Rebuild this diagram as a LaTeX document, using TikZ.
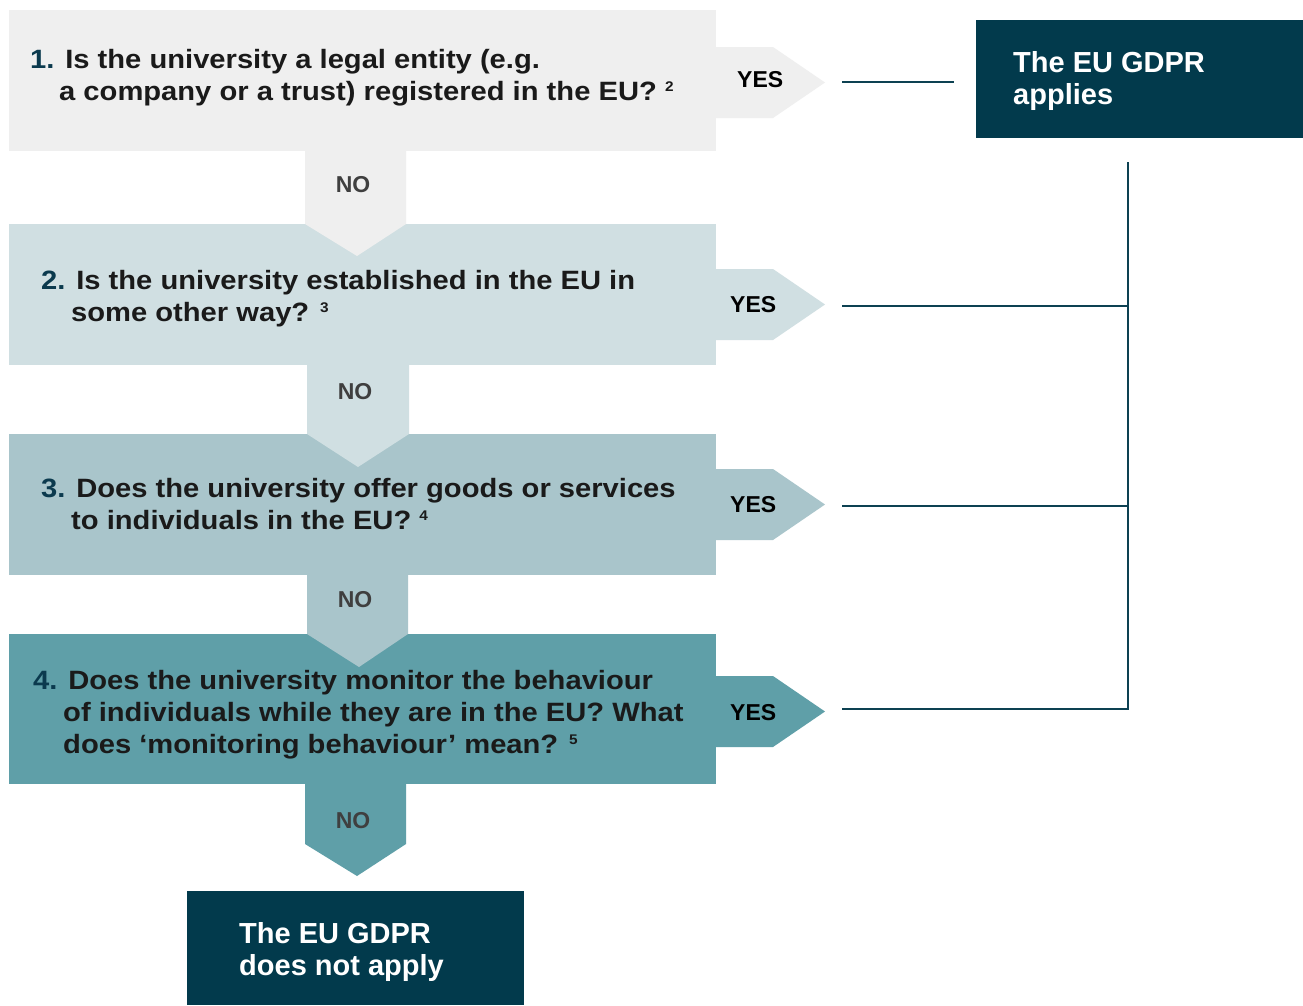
\documentclass[tikz,border=0pt]{standalone}
\usepackage{fontspec}
\setmainfont{Liberation Sans}
\newfontfamily\qfont[FakeStretch=1.1]{Liberation Sans}

\definecolor{boxA}{HTML}{EFEFEF}
\definecolor{boxB}{HTML}{D0DFE2}
\definecolor{boxC}{HTML}{A9C5CB}
\definecolor{boxD}{HTML}{5F9FA8}
\definecolor{deep}{HTML}{023A4C}
\definecolor{numc}{HTML}{0B3A4E}
\definecolor{qtext}{HTML}{1A1A1A}
\definecolor{nogrey}{HTML}{3F3F3F}
\definecolor{linkc}{HTML}{0D4152}

\tikzset{
  qline/.style={anchor=base west, inner sep=0pt, text=qtext,
    font={\qfont\bfseries\fontsize{26.5}{32}\selectfont}},
  yeslbl/.style={anchor=base west, inner sep=0pt, text=black,
    font={\bfseries\fontsize{23}{23}\selectfont}},
  nolbl/.style={anchor=base, inner sep=0pt, text=nogrey,
    font={\bfseries\fontsize{23}{23}\selectfont}},
  resline/.style={anchor=base west, inner sep=0pt, text=white,
    font={\bfseries\fontsize{29}{33}\selectfont}},
  link/.style={draw=linkc, line width=2.6pt},
}
\newcommand{\numb}[1]{\textcolor{numc}{#1}}
\newcommand{\fnote}[1]{{\fontsize{14}{14}\selectfont\raisebox{9pt}{#1}}}

\begin{document}
\begin{tikzpicture}[x=1pt,y=-1pt]
\useasboundingbox (0,0) rectangle (1303,1005);
\fill[white] (0,0) rectangle (1303,1005);

% question panels with their YES tabs
\fill[boxA] (9,10) rectangle (716,151);
\fill[boxA] (716,47) -- (773,47) -- (825,82.5) -- (773,118) -- (716,118) -- cycle;
\fill[boxB] (9,224) rectangle (716,365);
\fill[boxB] (716,269) -- (773,269) -- (825,304.5) -- (773,340) -- (716,340) -- cycle;
\fill[boxC] (9,434) rectangle (716,575);
\fill[boxC] (716,469) -- (773,469) -- (825,504.5) -- (773,540) -- (716,540) -- cycle;
\fill[boxD] (9,634) rectangle (716,784);
\fill[boxD] (716,676) -- (773,676) -- (825,711.5) -- (773,747) -- (716,747) -- cycle;

% NO stems pointing into the next panel
\fill[boxA] (305,150) -- (406,150) -- (406,224) -- (357,256) -- (305,224) -- cycle;
\fill[boxB] (307,364) -- (409,364) -- (409,434) -- (358,467) -- (307,434) -- cycle;
\fill[boxC] (307,574) -- (408,574) -- (408,634) -- (359,667) -- (307,634) -- cycle;
\fill[boxD] (305,783) -- (406,783) -- (406,844) -- (357,876) -- (305,844) -- cycle;

% outcome boxes
\fill[deep] (976,20) rectangle (1303,138);
\fill[deep] (187,891) rectangle (524,1005);

% questions
\node[qline] (q1a) at (30,68) {\numb{1.} Is the university a legal entity (e.g.};
\node[qline] (q1b) at (59,100) {a company or a trust) registered in the EU? \fnote{2}};
\node[qline] (q2a) at (41,289) {\numb{2.} Is the university established in the EU in};
\node[qline] (q2b) at (71,321) {some other way? \fnote{3}};
\node[qline] (q3a) at (41,497) {\numb{3.} Does the university offer goods or services};
\node[qline] (q3b) at (71,529) {to individuals in the EU? \fnote{4}};
\node[qline] (q4a) at (33,689) {\numb{4.} Does the university monitor the behaviour};
\node[qline] (q4b) at (63,721) {of individuals while they are in the EU? What};
\node[qline] (q4c) at (63,753) {does ‘monitoring behaviour’ mean? \fnote{5}};

% answers
\node[yeslbl] (y1) at (737,87) {YES};
\node[yeslbl] (y2) at (730,312) {YES};
\node[yeslbl] (y3) at (730,512) {YES};
\node[yeslbl] (y4) at (730,720) {YES};
\node[nolbl] (n1) at (353,192) {NO};
\node[nolbl] (n2) at (355,399) {NO};
\node[nolbl] (n3) at (355,607) {NO};
\node[nolbl] (n4) at (353,828) {NO};

% outcomes
\node[resline] (app1) at (1013,72) {The EU GDPR};
\node[resline] (app2) at (1013,104) {applies};
\node[resline] (na1) at (239,943) {The EU GDPR};
\node[resline] (na2) at (239,975) {does not apply};

% connectors from the YES tabs to the outcome
\coordinate (t1) at (842,82);
\coordinate (e1) at (954,82);
\coordinate (t2) at (842,306);
\coordinate (t3) at (842,506);
\coordinate (t4) at (842,709);
\coordinate (bus) at (1128,162);
\draw[link] (t1) -- (e1);
\draw[link] (t2) -- (t2 -| bus);
\draw[link] (t3) -- (t3 -| bus);
\draw[link, line join=miter] (bus) |- (t4);
\end{tikzpicture}
\end{document}
